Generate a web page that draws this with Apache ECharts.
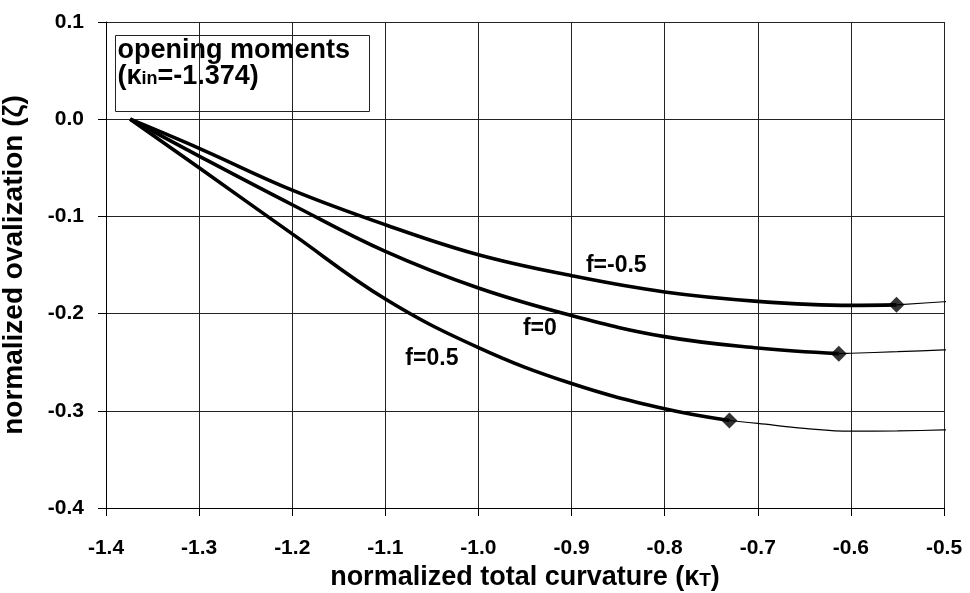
<!DOCTYPE html>
<html>
<head>
<meta charset="utf-8">
<script src="https://cdn.jsdelivr.net/npm/echarts@6/dist/echarts.min.js"></script>
<style>
  html, body { margin: 0; padding: 0; background: #fff; }
  #chart { width: 970px; height: 593px; }
</style>
</head>
<body>
<div id="chart"></div>
<script>
// ---- data ----
const kappaIn = -1.374;
const xTickLabels = ['-1.4', '-1.3', '-1.2', '-1.1', '-1.0', '-0.9', '-0.8', '-0.7', '-0.6', '-0.5'];
const yTickLabels = ['-0.4', '-0.3', '-0.2', '-0.1', '0.0', '0.1'];

// thick (main) curves, ending at the diamond markers
const kappaFm05 = [-1.374, -1.3, -1.2, -1.1, -1.0, -0.9, -0.8, -0.7, -0.6, -0.551];
const zetaFm05  = [0, -0.030, -0.073, -0.1086, -0.1395, -0.161, -0.1778, -0.1874, -0.1915, -0.191];
const kappaF0   = [-1.374, -1.3, -1.2, -1.1, -1.0, -0.9, -0.8, -0.7, -0.613];
const zetaF0    = [0, -0.038, -0.088, -0.136, -0.1737, -0.202, -0.2237, -0.2354, -0.2412];
const kappaF05  = [-1.374, -1.3, -1.2, -1.1, -1.0, -0.9, -0.8, -0.7305];
const zetaF05   = [0, -0.050, -0.118, -0.185, -0.235, -0.272, -0.298, -0.310];

// thin continuation curves
const kappaFm05Thin = [-0.551, -0.5, -0.493];
const zetaFm05Thin  = [-0.191, -0.1878, -0.1875];
const kappaF0Thin   = [-0.613, -0.6, -0.55, -0.5, -0.493];
const zetaF0Thin    = [-0.2412, -0.2408, -0.2392, -0.2373, -0.2371];
const kappaF05Thin  = [-0.7305, -0.7, -0.65, -0.6, -0.55, -0.5, -0.493];
const zetaF05Thin   = [-0.310, -0.313, -0.318, -0.321, -0.3207, -0.3197, -0.3193];

const curveNames = ['f=-0.5', 'f=0', 'f=0.5'];
// label anchor positions (data coordinates)
const labelKappa = [-0.852, -0.934, -1.050];
const labelZeta  = [-0.151, -0.2155, -0.2465];

// ---- helpers ----
const zip = (xs, ys) => xs.map((x, i) => [x, ys[i]]);
const FONT = '"Liberation Sans", Arial, Helvetica, sans-serif';

const thick = [[kappaFm05, zetaFm05], [kappaF0, zetaF0], [kappaF05, zetaF05]];
const thin = [[kappaFm05Thin, zetaFm05Thin], [kappaF0Thin, zetaF0Thin], [kappaF05Thin, zetaF05Thin]];

const series = [];
thick.forEach((c, i) => {
  series.push({
    type: 'line',
    name: curveNames[i],
    data: zip(c[0], c[1]),
    showSymbol: false,
    smooth: 0.4,
    lineStyle: { color: '#000', width: 3.6 },
    z: 3,
    markPoint: {
      symbol: 'circle',
      symbolSize: 1,
      itemStyle: { color: 'rgba(0,0,0,0)' },
      label: {
        show: true, position: 'inside', formatter: curveNames[i],
        color: '#000', fontFamily: FONT, fontWeight: 'bold', fontSize: 23
      },
      data: [{ coord: [labelKappa[i], labelZeta[i]] }]
    }
  });
});
thin.forEach((c, i) => {
  series.push({
    type: 'line',
    data: zip(c[0], c[1]),
    showSymbol: false,
    smooth: 0.4,
    clip: false,
    lineStyle: { color: '#000', width: 1.2 },
    z: 2
  });
});
series.push({
  type: 'scatter',
  data: thick.map(c => [c[0][c[0].length - 1], c[1][c[1].length - 1]]),
  symbol: 'diamond',
  symbolSize: [16, 16],
  itemStyle: { color: '#000' },
  z: 5
});

const chart = echarts.init(document.getElementById('chart'), null, { renderer: 'canvas' });
chart.setOption({
  animation: false,
  backgroundColor: '#fff',
  grid: { left: 106, right: 26, top: 22, bottom: 85, containLabel: false, outerBoundsMode: 'none' },
  xAxis: {
    type: 'value',
    min: -1.4, max: -0.5, interval: 0.1,
    name: '{a|normalized total curvature (κ}{b|T}{a|)}',
    nameLocation: 'middle',
    nameGap: 40,
    nameTextStyle: {
      rich: {
        a: { fontFamily: FONT, fontWeight: 'bold', fontSize: 27, color: '#000' },
        b: { fontFamily: FONT, fontWeight: 'bold', fontSize: 19, color: '#000', padding: [7, 0, 0, 0] }
      }
    },
    axisLine: { onZero: false, lineStyle: { color: '#000', width: 1 } },
    axisTick: { show: true, inside: false, length: 8, lineStyle: { color: '#000' } },
    axisLabel: {
      margin: 30,
      color: '#000', fontFamily: FONT, fontWeight: 'bold', fontSize: 21,
      formatter: v => xTickLabels[Math.round((v + 1.4) * 10)]
    },
    splitLine: { show: true, lineStyle: { color: '#222', width: 1 } }
  },
  yAxis: {
    type: 'value',
    min: -0.4, max: 0.1, interval: 0.1,
    name: '{a|normalized ovalization (ζ)}',
    nameLocation: 'middle',
    nameGap: 78,
    nameRotate: 90,
    nameTextStyle: {
      rich: { a: { fontFamily: FONT, fontWeight: 'bold', fontSize: 28, color: '#000' } }
    },
    axisLine: { show: true, onZero: false, lineStyle: { color: '#000', width: 1 } },
    axisTick: { show: true, inside: false, length: 8, lineStyle: { color: '#000' } },
    axisLabel: {
      margin: 22,
      color: '#000', fontFamily: FONT, fontWeight: 'bold', fontSize: 21,
      formatter: v => yTickLabels[Math.round((v + 0.4) * 10)]
    },
    splitLine: { show: true, lineStyle: { color: '#222', width: 1 } }
  },
  graphic: [{
    type: 'group',
    left: 115, top: 35,
    children: [
      { type: 'rect', shape: { x: 0, y: 0, width: 254, height: 76 },
        style: { fill: '#fff', stroke: '#222', lineWidth: 1 } },
      { type: 'text', x: 2, y: 2,
        style: {
          text: '{a|opening moments}\n{a|(κ}{b|in}{a|=' + kappaIn.toFixed(3) + ')}',
          rich: {
            a: { fontFamily: FONT, fontWeight: 'bold', fontSize: 27, lineHeight: 26, fill: '#000' },
            b: { fontFamily: FONT, fontWeight: 'bold', fontSize: 18, lineHeight: 26, fill: '#000', padding: [6, 0, 0, 0] }
          }
        } }
    ]
  }],
  series: series
});
</script>
</body>
</html>
